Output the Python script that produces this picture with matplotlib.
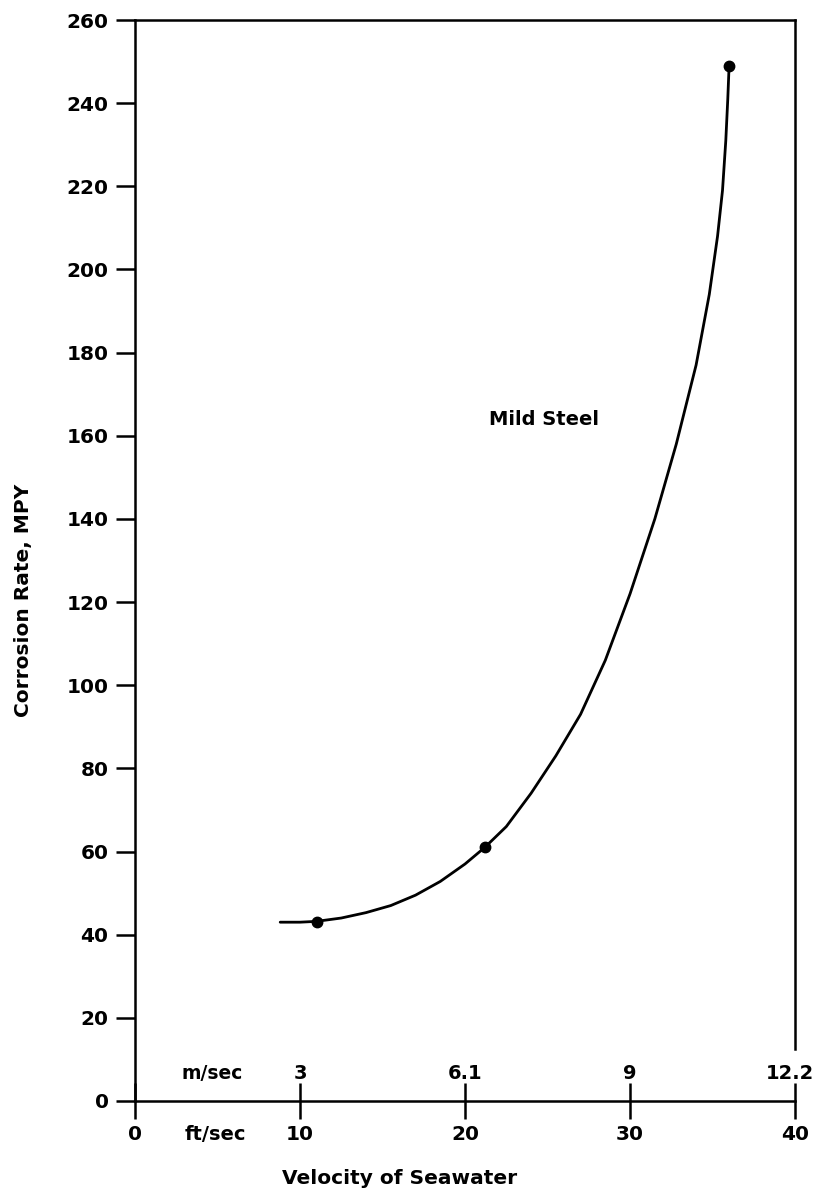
import numpy as np
import matplotlib
matplotlib.use("Agg")
import matplotlib.pyplot as plt

# Data (velocity in ft/sec, corrosion rate in MPY)
curve_ft = [8.8, 10.0, 11.0, 12.5, 14.0, 15.5, 17.0, 18.5, 20.0, 21.2,
            22.5, 24.0, 25.5, 27.0, 28.5, 30.0, 31.5, 32.8, 34.0, 34.8,
            35.3, 35.6, 35.8, 35.92, 36.0]
curve_mpy = [43, 43, 43.2, 44, 45.3, 47, 49.5, 52.8, 57, 61,
             66, 74, 83, 93, 106, 122, 140, 158, 177, 194,
             208, 219, 231, 241, 249]

point_ft = [11.0, 21.2, 36.0]
point_mpy = [43, 61, 249]

ft_ticks = [0, 10, 20, 30, 40]
ft_labels = ["0", "10", "20", "30", "40"]
m_ticks = [10, 20, 30, 40]
m_labels = ["3", "6.1", "9", "12.2"]
y_ticks = list(range(0, 261, 20))

plt.rcParams["font.family"] = ["DejaVu Sans"]
plt.rcParams["font.weight"] = "bold"

fig = plt.figure(figsize=(8.15, 11.91), dpi=100)
ax = fig.add_axes([0.1656, 0.0756, 0.81, 0.9076])

ax.plot(curve_ft, curve_mpy, color="black", lw=2.0, solid_capstyle="round",
        solid_joinstyle="round")
ax.plot(point_ft, point_mpy, "o", color="black", ms=7.5)

ax.set_xlim(0, 40)
ax.set_ylim(0, 260)

for s in ax.spines.values():
    s.set_linewidth(1.8)
# right spine is broken above the 12.2 label
ax.spines["right"].set_bounds(12.5, 260)

ax.set_yticks(y_ticks)
ax.tick_params(axis="y", direction="out", length=14, width=1.8,
               labelsize=14.5, pad=5)
ax.set_xticks(ft_ticks)
ax.set_xticklabels(ft_labels)
ax.tick_params(axis="x", direction="inout", length=26, width=1.8,
               labelsize=14.5, pad=4)

# m/sec scale written above the axis
for xv, lab in zip(m_ticks, m_labels):
    xo = -0.3 if lab == "12.2" else 0
    ax.text(xv + xo, 6.7, lab, ha="center", va="center", fontsize=14)
ax.text(4.7, 6.7, "m/sec", ha="center", va="center", fontsize=13.5)
ax.text(4.85, -8, "ft/sec", ha="center", va="center", fontsize=14,
        clip_on=False)

ax.text(24.8, 164, "Mild Steel", ha="center", va="center", fontsize=14)

fig.text(400 / 815, 1 - 1178 / 1191, "Velocity of Seawater",
         ha="center", va="center", fontsize=14.5)
fig.text(24 / 815, 1 - 600 / 1191, "Corrosion Rate, MPY", rotation=90,
         ha="center", va="center", fontsize=14.5)

fig.savefig("out.png", dpi=100)
